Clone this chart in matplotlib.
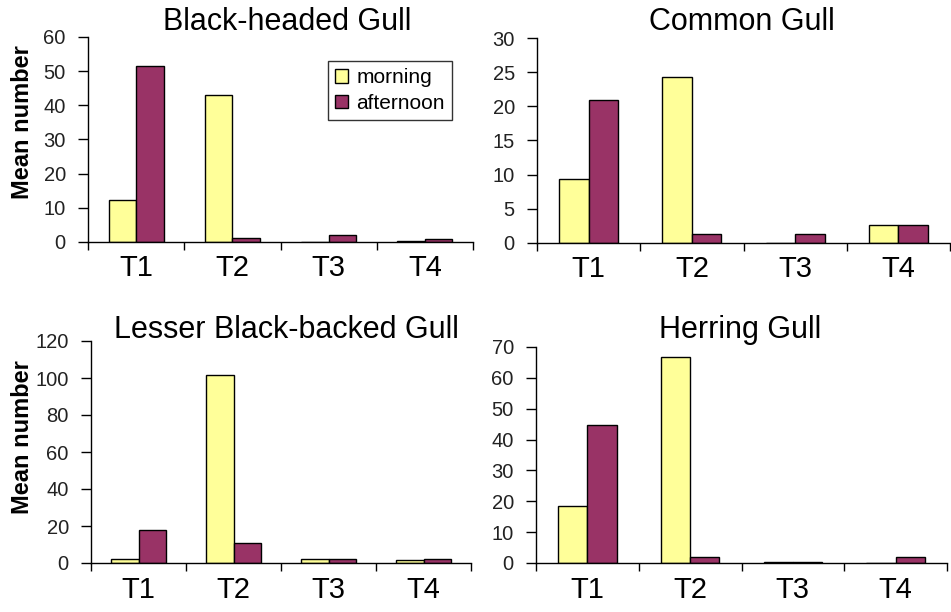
import numpy as np
import matplotlib
matplotlib.use("Agg")
import matplotlib.pyplot as plt

plt.rcParams['font.family'] = ['Liberation Sans', 'DejaVu Sans']

sites = ['T1', 'T2', 'T3', 'T4']
species = ['Black-headed Gull', 'Common Gull', 'Lesser Black-backed Gull', 'Herring Gull']
morning = [
    [12.3, 43.0, 0.0, 0.3],
    [9.4, 24.3, 0.0, 2.7],
    [2.2, 101.7, 2.0, 1.4],
    [18.5, 66.6, 0.3, 0.0],
]
afternoon = [
    [51.6, 1.2, 2.0, 0.8],
    [21.0, 1.3, 1.3, 2.7],
    [17.6, 10.8, 2.0, 2.0],
    [44.7, 2.1, 0.4, 1.8],
]
ymax = [60, 30, 120, 70]
ystep = [10, 5, 20, 10]

col_m = '#FFFF99'
col_a = '#993366'

W, H = 951, 612
fig = plt.figure(figsize=(W / 100, H / 100), dpi=100)

# axes boxes in pixels: left, top, right, bottom
boxes = [(88, 37, 473, 242), (537, 38, 950, 243), (91, 341, 471, 563), (536, 347, 947, 563)]
title_pos = [(287, 22), (742, 22), (286, 330), (740, 330)]

x = np.arange(len(sites))
w = 1 / 3.5

for k in range(4):
    l, t, r, b = boxes[k]
    ax = fig.add_axes([l / W, 1 - b / H, (r - l) / W, (b - t) / H])
    ax.bar(x - w / 2, morning[k], w, color=col_m, edgecolor='black', linewidth=1, label='morning')
    ax.bar(x + w / 2, afternoon[k], w, color=col_a, edgecolor='black', linewidth=1, label='afternoon')
    ax.set_xlim(-0.5, 3.5)
    ax.set_ylim(0, ymax[k])
    ax.set_yticks(np.arange(0, ymax[k] + 1, ystep[k]))
    ax.set_xticks(x)
    ax.set_xticklabels(sites)
    ax.set_xticks(np.arange(-0.5, 4, 1), minor=True)
    ax.tick_params(axis='x', which='major', length=0, labelsize=21, pad=9)
    ax.tick_params(axis='x', which='minor', length=6, width=1)
    ax.tick_params(axis='y', length=7, width=1, labelsize=14.5, pad=9, labelcolor='#222222')
    for s in ['top', 'right']:
        ax.spines[s].set_visible(False)
    ax.spines['left'].set_linewidth(1)
    ax.spines['bottom'].set_linewidth(1)
    tx, ty = title_pos[k]
    fig.text(tx / W, 1 - ty / H, species[k], ha='center', va='center', fontsize=22)
    if k == 0:
        leg = ax.legend(loc='upper left', bbox_to_anchor=((328 - l) / (r - l), 1 - (61 - t) / (b - t)),
                        fontsize=15, frameon=True, fancybox=False, borderpad=0.35,
                        handlelength=0.6, handleheight=0.6, handletextpad=0.4, labelspacing=0.3,
                        borderaxespad=0)
        leg.get_frame().set_edgecolor('black')
        leg.get_frame().set_linewidth(1)

fig.text(23 / W, 1 - 122 / H, 'Mean number', rotation=90, ha='center', va='center',
         fontsize=17, fontweight='bold')
fig.text(23 / W, 1 - 437 / H, 'Mean number', rotation=90, ha='center', va='center',
         fontsize=17, fontweight='bold')

fig.savefig('out.png', dpi=100)
